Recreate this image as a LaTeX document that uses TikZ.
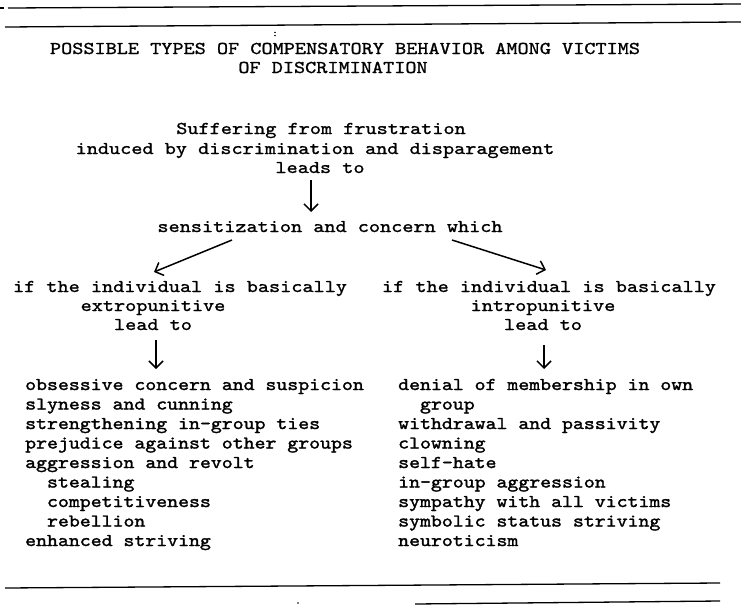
\documentclass[tikz,border=0pt]{standalone}
\usepackage{fontspec}
\newfontfamily\twup{lmmono10-regular.otf}[FakeStretch=1.178, FakeBold=1.2]
\newfontfamily\twlist{lmmono10-regular.otf}[FakeStretch=1.156, FakeBold=1.6]
\usetikzlibrary{arrows.meta}
\begin{document}
\begin{tikzpicture}[x=1pt,y=-1pt,
  up/.style={font=\twup\fontsize{18}{20}\selectfont, inner sep=0pt, anchor=base},
  lst/.style={font=\twlist\fontsize{18}{20}\selectfont, inner sep=0pt, anchor=base west},
  arr/.style={line width=1.5pt, -{Straight Barb[length=7pt,width=14pt,line width=1.5pt]}},
  rulel/.style={line width=1.3pt}]
\useasboundingbox (0,0) rectangle (741,605);
% rules at top
\coordinate (t0a) at (0,8); \coordinate (t0b) at (4,8);
\coordinate (t1a) at (8,8); \coordinate (t1b) at (741,4);
\coordinate (t2a) at (5,27); \coordinate (t2b) at (741,22);
\draw[rulel] (t0a) -- (t0b);
\draw[rulel] (t1a) -- (t1b);
\draw[rulel] (t2a) -- (t2b);
\node[inner sep=0pt, font=\twlist\fontsize{10}{10}\selectfont] (colon) at (275,34) {:};
% title
\node[up] (title1) at (345,54) {POSSIBLE TYPES OF COMPENSATORY BEHAVIOR AMONG VICTIMS};
\node[up] (title2) at (333,73) {OF DISCRIMINATION};
% central chain
\node[up] (suff) at (321,134) {Suffering from frustration};
\node[up] (induced) at (315,154) {induced by discrimination and disparagement};
\node[up] (leads) at (320,173) {leads to};
\node[up] (sens) at (330,232) {sensitization and concern which};
\node[up] (ifL) at (180,292) {if the individual is basically};
\node[up] (extro) at (153,311) {extropunitive};
\node[up] (leadL) at (153,330) {lead to};
\node[up] (ifR) at (549,292) {if the individual is basically};
\node[up] (intro) at (543,311) {intropunitive};
\node[up] (leadR) at (543,330) {lead to};
% arrows
\coordinate (a1s) at (311,180); \coordinate (a1e) at (311,212);
\coordinate (a2s) at (232,240); \coordinate (a2e) at (154,272);
\coordinate (a3s) at (452,240); \coordinate (a3e) at (546,270);
\coordinate (a4s) at (156,340); \coordinate (a4e) at (156,369);
\coordinate (a5s) at (544,345); \coordinate (a5e) at (544,369);
\draw[arr] (a1s) -- (a1e);
\draw[arr] (a2s) -- (a2e);
\draw[arr] (a3s) -- (a3e);
\draw[arr] (a4s) -- (a4e);
\draw[arr] (a5s) -- (a5e);
% left list
\node[lst] (l1) at (25,390) {obsessive concern and suspicion};
\node[lst] (l2) at (25,409.5) {slyness and cunning};
\node[lst] (l3) at (25,429) {strengthening in-group ties};
\node[lst] (l4) at (25,448.5) {prejudice against other groups};
\node[lst] (l5) at (25,468) {aggression and revolt};
\node[lst] (l6) at (25,487.5) {\ \ stealing};
\node[lst] (l7) at (25,507) {\ \ competitiveness};
\node[lst] (l8) at (25,526.5) {\ \ rebellion};
\node[lst] (l9) at (25,546) {enhanced striving};
% right list
\node[lst] (r1) at (398,390) {denial of membership in own};
\node[lst] (r2) at (398,409.5) {\ \ group};
\node[lst] (r3) at (398,429) {withdrawal and passivity};
\node[lst] (r4) at (398,448.5) {clowning};
\node[lst] (r5) at (398,468) {self-hate};
\node[lst] (r6) at (398,487.5) {in-group aggression};
\node[lst] (r7) at (398,507) {sympathy with all victims};
\node[lst] (r8) at (398,526.5) {symbolic status striving};
\node[lst] (r9) at (398,546) {neuroticism};
% bottom rules
\coordinate (b1a) at (5,588); \coordinate (b1b) at (720,583);
\coordinate (b2a) at (415,604); \coordinate (b2b) at (720,601);
\draw[rulel] (b1a) -- (b1b);
\draw[rulel] (b2a) -- (b2b);
\fill (298,603) circle (0.8pt);
\end{tikzpicture}
\end{document}
